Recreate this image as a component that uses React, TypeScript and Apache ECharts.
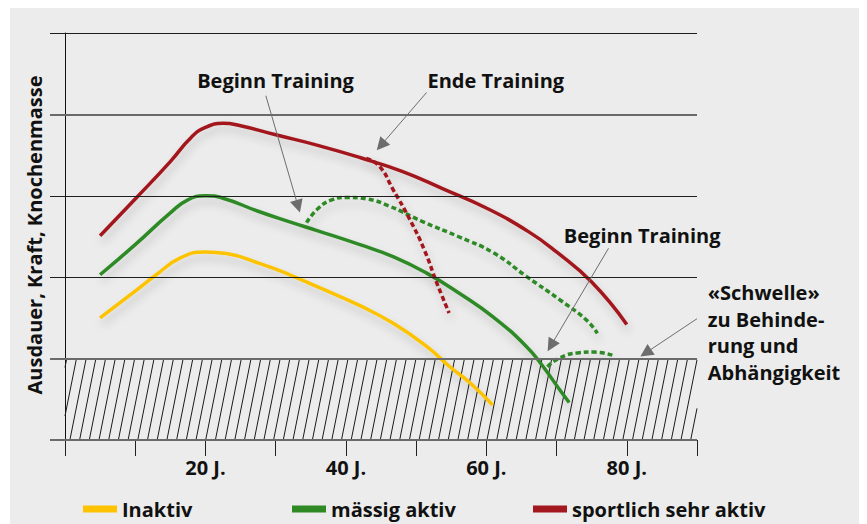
import React, { useEffect, useRef } from "react";
import * as echarts from "echarts";

// Age (years) and relative level (0..5) for each curve
const inaktiv: [number, number][] = [
  [5, 1.5], [10, 1.83], [13, 2.03], [16.5, 2.24], [20, 2.31], [23, 2.29], [28, 2.16],
  [32, 2.03], [36, 1.88], [42, 1.65], [46.8, 1.43], [51.5, 1.15], [54.8, 0.9], [57.7, 0.7], [60.9, 0.43],
];
const maessig: [number, number][] = [
  [5, 2.03], [10, 2.4], [15, 2.79], [17.5, 2.95], [20, 3.0], [22.5, 2.97], [27.5, 2.81],
  [32, 2.68], [36, 2.57], [42, 2.4], [46.8, 2.25], [51.5, 2.05], [56.2, 1.8], [61, 1.51],
  [65.7, 1.15], [68.1, 0.9], [70.5, 0.61], [71.8, 0.46],
];
const sportlich: [number, number][] = [
  [5, 2.51], [10, 2.96], [15, 3.42], [18, 3.72], [20, 3.84], [22.5, 3.89], [25, 3.86],
  [30, 3.75], [36, 3.62], [42, 3.47], [48, 3.3], [54, 3.08], [60, 2.85], [66, 2.56],
  [70, 2.31], [75, 1.94], [80, 1.42],
];
const trainingMitte: [number, number][] = [
  [34.4, 2.67], [36, 2.84], [38, 2.95], [40, 2.98], [43, 2.96], [46, 2.88], [51, 2.68],
  [56, 2.5], [61, 2.3], [65.7, 2.01], [70.5, 1.72], [74.3, 1.47], [75.8, 1.31],
];
const trainingEnde: [number, number][] = [
  [42.9, 3.46], [44.8, 3.36], [46.7, 3.08], [49.1, 2.71], [51.2, 2.33], [52.9, 1.94], [54.7, 1.56],
];
const trainingSpaet: [number, number][] = [
  [68.7, 0.9], [70.5, 1.01], [73.0, 1.07], [75.4, 1.08], [78, 1.04],
];
// threshold zone: [fromAge, toAge, low, high]
const thresholdZone = [[0, 90, 0, 1]];
const gridLevels = [0, 1, 2, 3, 4, 5];
const strongLevels = [0, 1, 4];
const tickValues = [0, 10, 20, 30, 40, 50, 60, 70, 80, 90];
const labelValues = [20, 40, 60, 80];
// annotation arrows: [from, to] in data coordinates
const arrows: [[number, number], [number, number]][] = [
  [[28.6, 4.23], [33.2, 2.87]],
  [[51.5, 4.27], [45.0, 3.62]],
  [[77.4, 2.355], [69.2, 1.16]],
  [[90, 1.49], [82.7, 1.07]],
];
const legendNames = ["Inaktiv", "mässig aktiv", "sportlich sehr aktiv"];

const RED = "#a3171f";
const GREEN = "#2f8a26";
const YELLOW = "#fdc300";
const FONT = "Open Sans";
const FS = 20;
const shadow = {
  shadowColor: "rgba(0,0,0,0.18)",
  shadowBlur: 8,
  shadowOffsetX: 2,
  shadowOffsetY: 6,
};

export default function App() {
  const ref = useRef<HTMLDivElement>(null);
  useEffect(() => {
    document.body.style.overflow = "hidden";
    const chart = echarts.init(ref.current!, null, { renderer: "svg" });
    const solid = (name: string, data: any, color: string) => ({
      type: "line",
      name,
      data,
      smooth: 0.5,
      showSymbol: false,
      symbol: "none",
      z: 3,
      color,
      lineStyle: { color, width: 3.5, ...shadow },
    });
    const dashed = (name: string, data: any, color: string) => ({
      type: "line",
      name,
      data,
      smooth: 0.5,
      showSymbol: false,
      symbol: "none",
      z: 3,
      color,
      lineStyle: { color, width: 3.5, type: [5, 3], cap: "butt", ...shadow },
    });
    const legendCommon = {
      icon: "rect",
      itemWidth: 34,
      itemHeight: 7,
      padding: 0,
      top: 491,
      textStyle: { fontFamily: FONT, fontWeight: "bold", fontSize: FS, color: "#111" },
    };
    const txt = (text: string, x: number, y: number, extra: any = {}) => ({
      type: "text",
      x,
      y,
      ...extra,
      style: {
        text,
        textAlign: "center",
        textVerticalAlign: "middle",
        fontFamily: FONT,
        fontWeight: "bold",
        fontSize: FS,
        fill: "#111",
        ...(extra.style || {}),
      },
    });
    chart.setOption({
      animation: false,
      backgroundColor: "#ebeceb",
      grid: { left: 40, right: 164, top: 25, bottom: 84 },
      xAxis: {
        type: "value",
        min: -2.133,
        max: 90,
        splitLine: { show: false },
        axisLine: { show: false },
        axisTick: {
          show: true,
          customValues: tickValues,
          length: 16,
          lineStyle: { color: "#222", width: 1 },
        },
        axisLabel: {
          customValues: labelValues,
          formatter: "{value} J.",
          margin: 17,
          fontFamily: FONT,
          fontWeight: "bold",
          fontSize: FS,
          color: "#111",
        },
      },
      yAxis: {
        type: "value",
        min: 0,
        max: 5,
        splitLine: { show: false },
        axisTick: { show: false },
        axisLabel: { show: false },
        axisLine: { show: true, onZero: true, lineStyle: { color: "#111", width: 1 } },
      },
      legend: legendNames.map((n, i) => ({
        ...legendCommon,
        data: [n],
        left: [73, 282, 523][i],
      })),
      series: [
        {
          type: "custom",
          name: "Schwelle",
          z: 1,
          silent: true,
          data: thresholdZone,
          encode: { x: [0, 1], y: [2, 3] },
          renderItem: (params: any, api: any) => {
            const p0 = api.coord([api.value(0), api.value(3)]);
            const p1 = api.coord([api.value(1), api.value(2)]);
            const x0 = p0[0], yT = p0[1], x1 = p1[0], yB = p1[1];
            const h = yB - yT;
            const dx = h * 0.2;
            const step = 9.7;
            const children: any[] = [];
            for (let xb = x0 + 4.9 - Math.ceil(dx / step + 1) * step; xb < x1; xb += step) {
              const t0 = Math.max(0, (x0 - xb) / dx);
              const t1 = Math.min(1, (x1 - xb) / dx);
              if (t1 <= t0) continue;
              children.push({
                type: "line",
                shape: { x1: xb + dx * t0, y1: yB - h * t0, x2: xb + dx * t1, y2: yB - h * t1 },
                style: { stroke: "#1a1a1a", lineWidth: 1 },
              });
            }
            return { type: "group", children };
          },
        },
        {
          type: "line",
          name: "Raster",
          data: [],
          z: 2,
          silent: true,
          markLine: {
            silent: true,
            symbol: "none",
            label: { show: false },
            data: gridLevels.map((v) => ({
              yAxis: v,
              lineStyle: strongLevels.includes(v)
                ? { color: "#6a6a6a", width: 2, type: "solid" }
                : { color: "#1e1e1e", width: 1, type: "solid" },
            })),
          },
        },
        solid("Inaktiv", inaktiv, YELLOW),
        solid("mässig aktiv", maessig, GREEN),
        solid("sportlich sehr aktiv", sportlich, RED),
        dashed("Training ab 35", trainingMitte, GREEN),
        dashed("Trainingsende", trainingEnde, RED),
        dashed("Training ab 68", trainingSpaet, GREEN),
        {
          type: "line",
          name: "Pfeile",
          data: [],
          z: 4,
          silent: true,
          markLine: {
            silent: true,
            symbol: ["none", "triangle"],
            symbolSize: 13,
            label: { show: false },
            itemStyle: { color: "#6d6d6d" },
            lineStyle: { color: "#6d6d6d", width: 1, type: "solid" },
            data: arrows.map(([a, b]) => [{ coord: a }, { coord: b }]),
          },
        },
      ],
      graphic: [
        txt("Beginn Training", 265.5, 72),
        txt("Ende Training", 485.8, 72),
        txt("Beginn Training", 632.2, 227),
        txt("«Schwelle»\nzu Behinde-\nrung und\nAbhängigkeit", 697.7, 271.5, {
          style: { textAlign: "left", textVerticalAlign: "top", lineHeight: 26.5 },
        }),
        txt("Ausdauer, Kraft, Knochenmasse", 24, 227, { rotation: Math.PI / 2 }),
      ],
    });
    return () => chart.dispose();
  }, []);
  return (
    <div style={{ marginLeft: 2, width: 851, height: 516 }}>
      <div ref={ref} style={{ width: 851, height: 516 }} />
    </div>
  );
}
